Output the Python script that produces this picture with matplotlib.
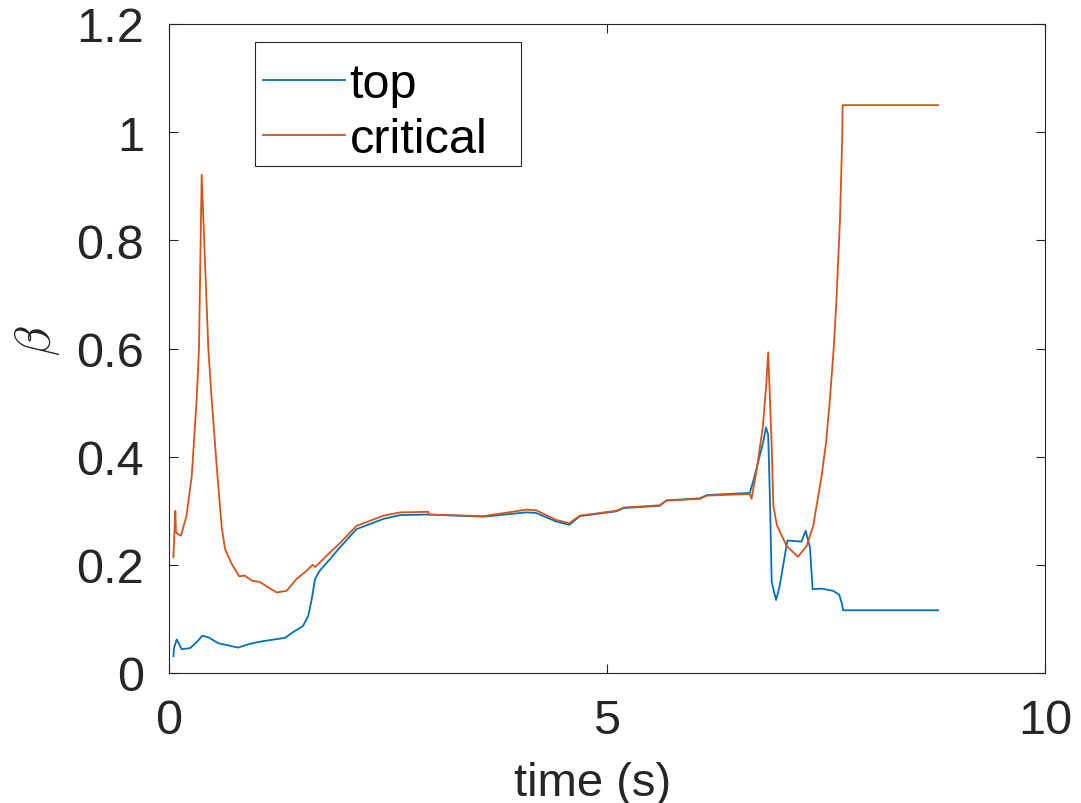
import matplotlib
matplotlib.use('Agg')
import matplotlib.pyplot as plt
from matplotlib.patches import Rectangle

# time (s) and beta for the two curves
t_top = [0.05, 0.057, 0.088, 0.145, 0.24, 0.316, 0.38, 0.45, 0.563, 0.79, 0.925, 1.04,
         1.324, 1.42, 1.53, 1.59, 1.63, 1.667, 1.72, 1.84, 1.95, 2.14, 2.45, 2.64, 2.96,
         3.59, 4.08, 4.19, 4.42, 4.57, 4.69, 5.11, 5.19, 5.6, 5.68, 6.06, 6.14, 6.63,
         6.67, 6.71, 6.78, 6.815, 6.84, 6.86, 6.88, 6.93, 6.97, 7.01, 7.059, 7.22, 7.268,
         7.317, 7.347, 7.45, 7.58, 7.65, 7.677, 7.696, 8.78]
b_top = [0.031, 0.046, 0.062, 0.044, 0.046, 0.057, 0.069, 0.066, 0.055, 0.047, 0.054, 0.058,
         0.065, 0.076, 0.087, 0.106, 0.137, 0.174, 0.189, 0.211, 0.232, 0.266, 0.285, 0.292, 0.293,
         0.289, 0.297, 0.296, 0.280, 0.274, 0.290, 0.299, 0.305, 0.309, 0.319, 0.323, 0.329, 0.333,
         0.355, 0.380, 0.425, 0.454, 0.440, 0.322, 0.168, 0.135, 0.160, 0.198, 0.245, 0.243, 0.263,
         0.232, 0.155, 0.156, 0.152, 0.145, 0.131, 0.116, 0.116]

t_crit = [0.05, 0.072, 0.08, 0.10, 0.137, 0.20, 0.26, 0.316, 0.342, 0.373, 0.449, 0.487,
          0.544, 0.60, 0.64, 0.715, 0.80, 0.868, 0.944, 1.04, 1.115, 1.23, 1.343, 1.457,
          1.57, 1.64, 1.67, 1.80, 1.95, 2.14, 2.45, 2.64, 2.96, 2.97, 3.59, 4.08, 4.19,
          4.42, 4.57, 4.69, 5.11, 5.19, 5.6, 5.68, 6.06, 6.14, 6.63, 6.65, 6.71, 6.78,
          6.82, 6.84, 6.88, 6.899, 6.94, 7.05, 7.18, 7.28, 7.355, 7.45, 7.50, 7.545, 7.59,
          7.62, 7.66, 7.685, 7.69, 8.78]
b_crit = [0.214, 0.300, 0.260, 0.257, 0.254, 0.291, 0.365, 0.507, 0.599, 0.921, 0.599, 0.507,
          0.383, 0.272, 0.229, 0.202, 0.179, 0.180, 0.171, 0.168, 0.160, 0.149, 0.152, 0.174,
          0.189, 0.200, 0.196, 0.217, 0.240, 0.272, 0.291, 0.297, 0.298, 0.293, 0.290, 0.302, 0.301,
          0.283, 0.277, 0.291, 0.300, 0.306, 0.310, 0.319, 0.322, 0.328, 0.331, 0.322, 0.377, 0.457,
          0.538, 0.593, 0.420, 0.309, 0.273, 0.235, 0.215, 0.235, 0.273, 0.365, 0.425, 0.507, 0.605,
          0.692, 0.840, 0.990, 1.05, 1.05]

plt.rcParams['font.family'] = ['Liberation Sans', 'DejaVu Sans']
plt.rcParams['mathtext.fontset'] = 'cm'

fig = plt.figure(figsize=(10.81, 8.04), dpi=100)
ax = fig.add_axes([169/1081, 130/804, 876/1081, 649/804])

ax.plot(t_top, b_top, color='#0072BD', lw=1.3, label='top')
ax.plot(t_crit, b_crit, color='#D95319', lw=1.3, label='critical')

ax.set_xlim(0, 10)
ax.set_ylim(0, 1.2)
ax.set_xticks([0, 5, 10])
ax.set_yticks([0, 0.2, 0.4, 0.6, 0.8, 1.0, 1.2])
ax.set_yticklabels(['0', '0.2', '0.4', '0.6', '0.8', '1', '1.2'])
ax.tick_params(direction='in', length=6.5, width=0.8, colors='#262626',
               labelsize=35, top=True, right=True)
ax.tick_params(axis='y', pad=18)
ax.tick_params(axis='x', pad=18)
for s in ax.spines.values():
    s.set_color('#262626')
    s.set_linewidth(0.8)

ax.set_xlabel('time (s)', fontsize=34, color='#262626', labelpad=13)
ax.xaxis.label.set_x(0.483)
ax.set_ylabel(r'$\beta$', fontsize=35, color='#262626', labelpad=10)
ax.yaxis.label.set_y(0.513)

# legend box drawn separately (MATLAB style padding)
ax.add_patch(Rectangle((0.0982, 0.7812), 0.3036, 0.1911, transform=ax.transAxes,
                       facecolor='white', edgecolor='#262626', lw=0.8, zorder=4))
leg = ax.legend(loc='upper left', bbox_to_anchor=(0.107, 0.942), borderaxespad=0,
                fontsize=35, handlelength=1.69, handletextpad=0.1, borderpad=0,
                labelspacing=0.21, frameon=False)
leg.set_zorder(5)

fig.savefig('out.png', dpi=100)
